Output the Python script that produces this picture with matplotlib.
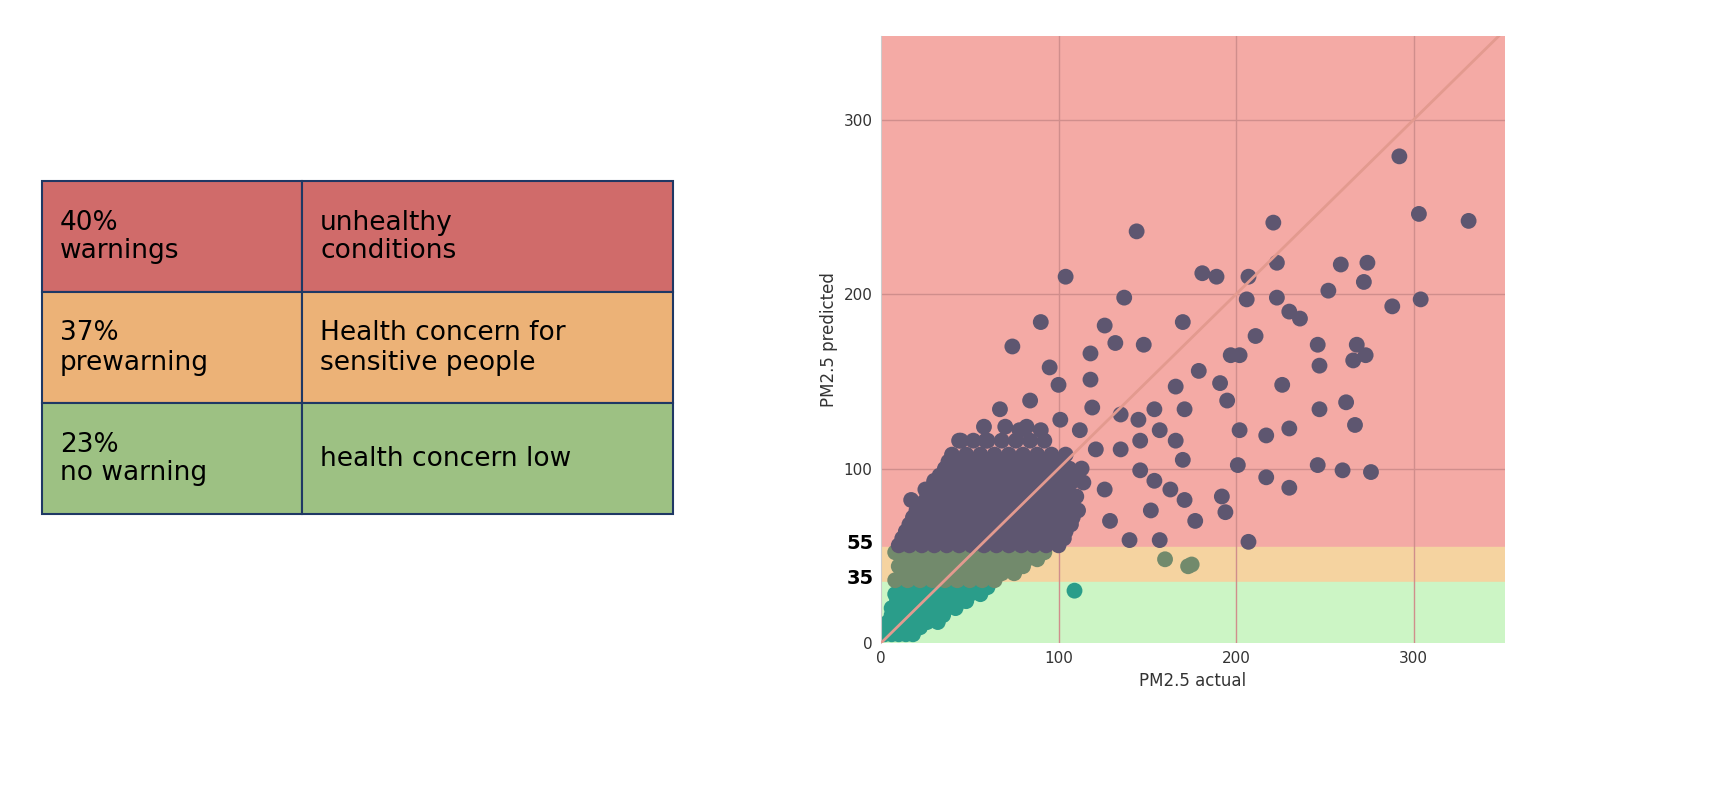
import numpy as np
import matplotlib.pyplot as plt
from matplotlib.patches import Rectangle

# table content
table_left = ["40%\nwarnings", "37%\nprewarning", "23%\nno warning"]
table_right = ["unhealthy\nconditions", "Health concern for\nsensitive people", "health concern low"]
table_colors = ["#d06b6a", "#ecb277", "#9dc183"]

# sparse points (actual, predicted)
sparse = [(292, 279), (303, 246), (331, 242), (221, 241), (144, 236), (104, 210), (181, 212), (189, 210),
          (207, 210), (223, 218), (259, 217), (274, 218), (304, 197), (288, 193), (272, 207), (223, 198),
          (206, 197), (230, 190), (236, 186), (170, 184), (137, 198), (90, 184), (126, 182), (246, 171),
          (268, 171), (252, 202), (74, 170), (148, 171), (197, 165), (211, 176), (179, 156), (118, 166),
          (132, 172), (95, 158), (100, 148), (247, 134), (230, 123), (266, 162), (273, 165), (247, 159),
          (226, 148), (267, 125), (202, 165), (191, 149), (195, 139), (202, 122), (217, 119), (201, 102),
          (217, 95), (230, 89), (246, 102), (262, 138), (276, 98), (260, 99), (192, 84), (207, 58),
          (194, 75), (173, 44), (175, 45), (109, 30), (160, 48),
          (118, 151), (119, 135), (135, 131), (145, 128), (154, 134), (157, 122), (166, 116), (170, 105),
          (163, 88), (152, 76), (140, 59), (129, 70), (126, 88), (146, 99), (154, 93), (171, 82),
          (177, 70), (157, 59), (121, 111), (135, 111), (146, 116), (112, 122), (101, 128), (90, 122),
          (78, 122), (84, 139), (73, 105), (67, 134), (59, 116), (45, 116), (39, 99), (30, 93),
          (25, 88), (17, 82), (14, 59), (33, 70), (166, 147), (171, 134)]

# dense cluster rows: predicted value -> actual values
dense_rows = {
    5: [2, 6, 10, 14, 18],
    9: [4, 8, 12, 16, 22],
    12: [4, 9, 14, 20, 26, 32],
    16: [6, 11, 17, 23, 29, 35],
    20: [6, 12, 18, 24, 30, 36, 42],
    24: [9, 15, 21, 27, 33, 39, 45, 48],
    28: [8, 14, 20, 26, 32, 38, 44, 50, 56],
    32: [11, 18, 25, 32, 40, 47, 53, 60],
    36: [8, 15, 22, 29, 36, 43, 50, 57, 64],
    40: [12, 19, 26, 33, 40, 47, 54, 61, 68, 75],
    44: [10, 17, 24, 31, 38, 45, 52, 59, 66, 73, 80],
    48: [12, 19, 26, 33, 40, 47, 54, 61, 68, 75, 82, 88],
    52: [8, 15, 22, 29, 36, 43, 50, 57, 64, 71, 78, 85, 92],
    56: [10, 16, 23, 30, 37, 44, 51, 58, 65, 72, 79, 86, 93, 100],
    60: [12, 19, 26, 33, 40, 47, 54, 61, 68, 75, 82, 89, 96, 103],
    64: [14, 20, 27, 34, 41, 48, 55, 62, 69, 76, 83, 90, 97, 104],
    68: [16, 23, 30, 37, 44, 51, 58, 65, 72, 79, 86, 93, 100, 107],
    72: [18, 24, 31, 38, 45, 52, 59, 66, 73, 80, 87, 94, 101, 108],
    76: [20, 27, 34, 41, 48, 55, 62, 69, 76, 83, 90, 97, 104, 111],
    80: [23, 30, 37, 44, 51, 58, 65, 72, 79, 86, 93, 100, 107],
    84: [26, 33, 40, 47, 54, 61, 68, 75, 82, 89, 96, 103, 110],
    88: [28, 35, 42, 49, 56, 63, 70, 77, 84, 91, 98, 105],
    92: [30, 37, 44, 51, 58, 65, 72, 79, 86, 93, 100, 107, 114],
    96: [33, 40, 47, 54, 61, 68, 75, 82, 89, 96, 103, 110],
    100: [36, 43, 50, 57, 64, 71, 78, 85, 92, 99, 106, 113],
    104: [38, 45, 52, 60, 68, 76, 84, 92, 100],
    108: [40, 48, 56, 64, 72, 80, 88, 96, 104],
    116: [44, 52, 60, 68, 76, 84, 92],
    124: [58, 70, 82],
}

xs = [p[0] for p in sparse]
ys = [p[1] for p in sparse]
for yv, row in dense_rows.items():
    for xv in row:
        xs.append(xv)
        ys.append(yv)
xs = np.array(xs, float)
ys = np.array(ys, float)

fig = plt.figure(figsize=(17.32, 7.96), dpi=100)

# table
tab = fig.add_axes([0, 0, 1, 1])
tab.set_xlim(0, 1732)
tab.set_ylim(796, 0)
tab.axis("off")
row_top = [181, 292, 403]
for i in range(3):
    for x0, w in [(42, 260), (302, 371)]:
        tab.add_patch(Rectangle((x0, row_top[i]), w, 111, facecolor=table_colors[i],
                                edgecolor="#1f3864", lw=1.5))
    tab.text(60, row_top[i] + 56, table_left[i], fontsize=19, va="center", ha="left", linespacing=1.15)
    tab.text(320, row_top[i] + 56, table_right[i], fontsize=19, va="center", ha="left", linespacing=1.15)

ax = fig.add_axes([881 / 1732, 1 - 643 / 796, 624 / 1732, 607 / 796])
ax.set_xlim(0, 351.5)
ax.set_ylim(0, 348)
ax.axhspan(55, 348, color="#f4aaa5", zorder=0)
ax.axhspan(35, 55, color="#f5d3a0", zorder=0)
ax.axhspan(0, 35, color="#ccf5c5", zorder=0)
for v in [100, 200, 300]:
    ax.axvline(v, color="#d08e8c", lw=1, zorder=1)
    ax.axhline(v, color="#d08e8c", lw=1, zorder=1)

cols = np.where(ys > 55, "#5e5670", np.where(ys > 35, "#728a6c", "#2a9d8a"))
ax.scatter(xs, ys, s=130, c=cols, lw=0, zorder=2)
ax.plot([0, 351.5], [0, 351.5], color="#e39a8f", lw=2, zorder=3)

ax.set_xticks([0, 100, 200, 300])
ax.set_yticks([0, 100, 200, 300])
ax.tick_params(length=0, labelsize=11, labelcolor="#333333", pad=6)
for s in ["top", "right", "bottom"]:
    ax.spines[s].set_visible(False)
ax.spines["left"].set_color("#cccccc")
ax.set_xlabel("PM2.5 actual", fontsize=12, color="#333333")
ax.set_ylabel("PM2.5 predicted", fontsize=12, color="#333333")
for v in [55, 35]:
    ax.text(-4, v + 2, str(v), fontsize=14, fontweight="bold", ha="right", va="center", clip_on=False)

fig.savefig("out.png", dpi=100)
